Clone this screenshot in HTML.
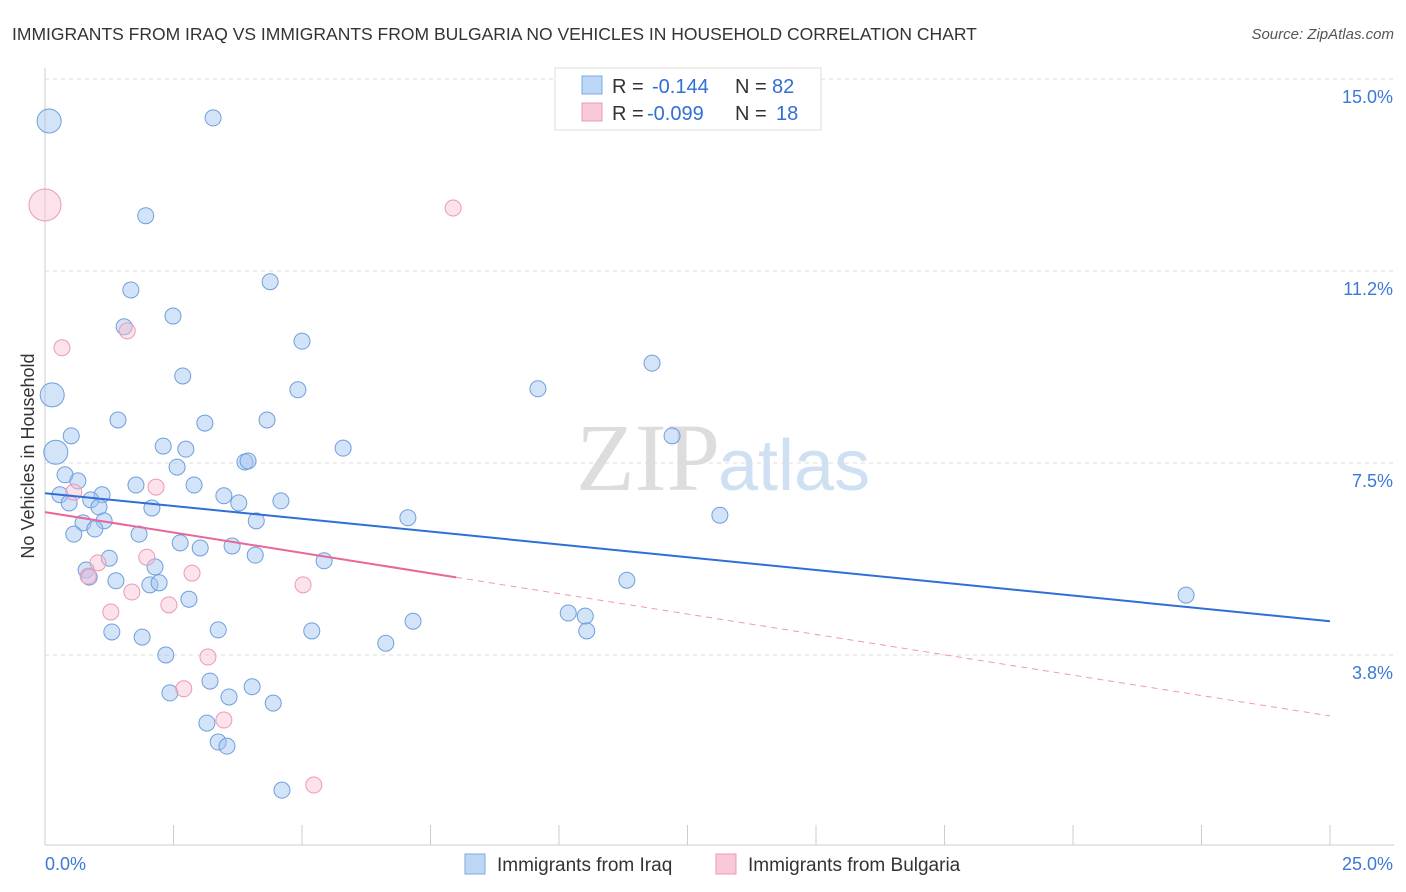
<!DOCTYPE html>
<html><head><meta charset="utf-8"><style>
body{margin:0;background:#fff;font-family:"Liberation Sans",sans-serif;}
svg{display:block}
</style></head><body>
<svg id="chart" width="1406" height="892">
<text x="12" y="40" font-size="17.5" fill="#333">IMMIGRANTS FROM IRAQ VS IMMIGRANTS FROM BULGARIA NO VEHICLES IN HOUSEHOLD CORRELATION CHART</text>
<text x="1394" y="39" font-size="15" fill="#555" text-anchor="end" font-style="italic">Source: ZipAtlas.com</text>
<text x="720" y="490" font-size="96" fill="#ddd" text-anchor="end" font-family="Liberation Serif">ZIP</text>
<text x="718" y="490" font-size="72" fill="#cfe0f3">atlas</text>
<g id="grid"></g><g id="axes"></g><g id="marks"></g>
<text transform="translate(34,456) rotate(-90)" font-size="18" fill="#333" text-anchor="middle">No Vehicles in Household</text>
<g>
<rect x="555" y="68" width="266" height="62" fill="#fff" stroke="#ddd"/>
<rect x="582" y="76" width="20" height="18" fill="#bcd6f5" stroke="#7aa9e3"/>
<rect x="582" y="103" width="20" height="18" fill="#f9c9d8" stroke="#ec9ab5"/>
<text y="93" font-size="20" fill="#333"><tspan x="612">R =</tspan><tspan x="652" fill="#2f6fd6">-0.144</tspan><tspan x="735">N =</tspan><tspan x="772" fill="#2f6fd6">82</tspan></text>
<text y="120" font-size="20" fill="#333"><tspan x="612">R =</tspan><tspan x="647" fill="#2f6fd6">-0.099</tspan><tspan x="735">N =</tspan><tspan x="776" fill="#2f6fd6">18</tspan></text>
</g>
<g>
<rect x="465" y="854" width="20" height="20" fill="#bcd6f5" stroke="#7aa9e3"/>
<text x="497" y="871" font-size="19" fill="#333">Immigrants from Iraq</text>
<rect x="716" y="854" width="20" height="20" fill="#f9c9d8" stroke="#ec9ab5"/>
<text x="748" y="871" font-size="19" fill="#333">Immigrants from Bulgaria</text>
</g>
</svg>
<script>
const iraqX=[0.08,3.27,1.96,1.67,4.38,2.49,1.54,5.00,2.68,4.92,0.14,9.59,11.81,1.42,3.11,4.32,0.51,2.30,2.74,0.21,5.80,12.20,3.89,3.95,2.57,0.39,0.64,1.77,2.90,0.29,1.11,0.89,3.48,4.59,1.05,3.77,0.47,2.08,4.11,7.06,13.13,0.74,1.15,0.56,0.97,1.83,2.63,3.02,3.64,4.09,1.25,5.43,0.80,2.14,0.86,1.38,2.04,2.22,11.32,22.20,2.80,10.18,10.51,7.16,1.30,1.89,3.37,5.19,10.54,6.63,2.35,3.21,4.03,2.43,3.58,4.44,3.15,3.37,3.54,4.61];
const iraqY=[14.18,14.24,12.33,10.88,11.04,10.37,10.16,9.88,9.20,8.93,8.83,8.95,9.45,8.34,8.28,8.34,8.03,7.83,7.77,7.71,7.79,8.03,7.52,7.54,7.42,7.27,7.15,7.07,7.07,6.88,6.88,6.78,6.86,6.76,6.64,6.72,6.72,6.62,6.37,6.43,6.48,6.33,6.37,6.11,6.21,6.11,5.94,5.84,5.88,5.70,5.64,5.59,5.41,5.47,5.27,5.20,5.12,5.16,5.21,4.92,4.84,4.57,4.51,4.41,4.20,4.10,4.24,4.22,4.22,3.98,3.75,3.24,3.13,3.01,2.93,2.81,2.42,2.05,1.97,1.11];
const bulgX=[0,7.94,0.33,1.60,0.56,2.16,1.98,1.03,0.84,2.86,1.69,1.28,2.41,5.02,3.17,2.70,3.48,5.23];
const bulgY=[12.54,12.48,9.75,10.08,6.93,7.03,5.66,5.55,5.29,5.35,4.98,4.59,4.73,5.12,3.71,3.09,2.48,1.21];
const bigIraq=[0,10,19];
const bigBulg=[0];
const iraqTrend=[6.91,4.41];
const bulgTrend=[6.54,2.56];
const bulgSolidEnd=8.0;
const yTicks=[15.0,11.25,7.5,3.75];
const yTickLabels=["15.0%","11.2%","7.5%","3.8%"];
const xTicks=[0,2.5,5,7.5,10,12.5,15,17.5,20,22.5,25];
const NS='http://www.w3.org/2000/svg';
const X=v=>45+v*51.4, Y=v=>79+(15-v)*51.2;
function mk(t,a,p){const e=document.createElementNS(NS,t);for(const k in a)e.setAttribute(k,a[k]);p.appendChild(e);return e;}
const grid=document.getElementById('grid'),axes=document.getElementById('axes'),marks=document.getElementById('marks');
yTicks.forEach((v,i)=>{
 const l=mk('line',{x1:45,x2:1394,y1:Y(v),y2:Y(v),stroke:'#ddd','stroke-dasharray':'4,4'},grid);
 
 
 const t=mk('text',{x:1393,y:Y(v)+24,'font-size':18,fill:'#3b78d8','text-anchor':'end'},axes);
 t.textContent=yTickLabels[i];
 
 
});
const ya=mk('line',{x1:45,x2:45,y1:68,y2:845,stroke:'#ccc'},axes);


const xa=mk('line',{x1:45,x2:1394,y1:845,y2:845,stroke:'#ccc'},axes);


xTicks.forEach(v=>{const l=mk('line',{x1:X(v),x2:X(v),y1:825,y2:845,stroke:'#ccc'},axes);
 
 });
[[0,'0.0%','start',45],[25,'25.0%','end',1393]].forEach(a=>{const t=mk('text',{x:a[3],y:870,'font-size':18,fill:'#3b78d8','text-anchor':a[2]},axes);t.textContent=a[1];
 
 });
iraqX.forEach((x,i)=>{const r=bigIraq.includes(i)?12:8;
 const c=mk('circle',{cx:X(x),cy:Y(iraqY[i]),r:r,fill:'rgba(160,196,240,0.45)',stroke:'#6f9fdc','stroke-width':1},marks);
 
 });
bulgX.forEach((x,i)=>{const r=bigBulg.includes(i)?16:8;
 const c=mk('circle',{cx:X(x),cy:Y(bulgY[i]),r:r,fill:'rgba(248,190,208,0.45)',stroke:'#eb9ab4','stroke-width':1},marks);
 
 });
const bt=mk('line',{x1:X(0),y1:Y(iraqTrend[0]),x2:X(25),y2:Y(iraqTrend[1]),stroke:'#2f6fd6','stroke-width':2},marks);


const pm=v=>bulgTrend[0]+(bulgTrend[1]-bulgTrend[0])*v/25;
const ps=mk('line',{x1:X(0),y1:Y(pm(0)),x2:X(bulgSolidEnd),y2:Y(pm(bulgSolidEnd)),stroke:'#e8669a','stroke-width':2},marks);


const pd=mk('line',{x1:X(bulgSolidEnd),y1:Y(pm(bulgSolidEnd)),x2:X(25),y2:Y(pm(25)),stroke:'#eb9ab4','stroke-width':1,'stroke-dasharray':'6,5'},marks);


</script>
</body></html>
